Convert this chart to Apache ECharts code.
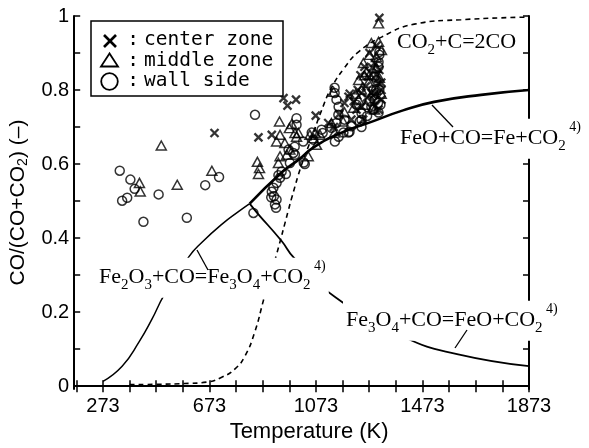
<!DOCTYPE html>
<html><head><meta charset="utf-8">
<script src="https://cdn.jsdelivr.net/npm/echarts@6/dist/echarts.min.js"></script>
<style>html,body{margin:0;padding:0;background:#fff}#c{width:589px;height:448px}</style>
</head><body><div id="c"></div>
<script>
// ---- axis ticks / labels ----
const xTicks = [173,273,373,473,573,673,773,873,973,1073,1173,1273,1373,1473,1573,1673,1773,1873];
const xLabels = [273,673,1073,1473,1873];
const yTicks = [0,0.1,0.2,0.3,0.4,0.5,0.6,0.7,0.8,0.9,1];
const yLabels = [0,0.2,0.4,0.6,0.8,1];

// ---- equilibrium curves [T(K), CO/(CO+CO2)] ----
const fe3o4FeCurve = [[273,0.013],[345,0.054],[408,0.119],[457,0.181],[502,0.245],[596,0.35],[644,0.388],[719,0.437],[783,0.472],[824,0.493]];
const feoFeCurve = [[824,0.493],[944,0.577],[1008,0.612],[1064,0.645],[1160,0.682],[1281,0.714],[1400,0.745],[1517,0.768],[1693,0.787],[1873,0.80]];
const fe3o4FeoCurve = [[824,0.493],[851,0.469],[944,0.392],[989,0.348],[1146,0.24],[1405,0.132],[1607,0.086],[1873,0.054]];
const boudouardCurve = [[373,0.004],[480,0.005],[580,0.007],[663,0.011],[719,0.024],[768,0.046],[806,0.081],[843,0.146],[877,0.235],[925,0.356],[970,0.477],[982,0.509],[1019,0.598],[1057,0.671],[1094,0.745],[1131,0.806],[1180,0.86],[1233,0.903],[1319,0.943],[1442,0.978],[1618,0.99],[1873,0.997]];

// ---- measured points ----
const centerZone = [[692,0.684],[857,0.672],[907,0.679],[951,0.778],[998,0.774],[966,0.758],[1072,0.731],[1200,0.790],[1244,0.792],[1311,0.995],
 [1195,0.782],[1180,0.765],[1255,0.863],[1270,0.836],[1293,0.873],[1311,0.854],[1308,0.819],[1281,0.792],[1319,0.80],[1225,0.747],[1244,0.755],
 [1319,0.774],[1308,0.747],[1206,0.72],[1119,0.711],[1274,0.90],[1300,0.92],[1160,0.735],[1140,0.70],[1290,0.77],[1230,0.80],[1265,0.78],[1300,0.84],[1250,0.72],
 [1215,0.77],[1285,0.86],[1260,0.81],[1318,0.82],[1240,0.84],[1295,0.79]];
const middleZone = [[492,0.650],[410,0.549],[413,0.526],[552,0.544],[682,0.582],[853,0.606],[861,0.589],[857,0.573],
 [936,0.715],[982,0.708],[973,0.697],[938,0.679],[925,0.661],[956,0.657],[975,0.639],[938,0.621],[932,0.603],[963,0.625],[1007,0.684],[1044,0.621],
 [1063,0.670],[1075,0.652],[1088,0.679],[994,0.684],[1069,0.684],[1131,0.711],[1175,0.715],[1050,0.679],[1000,0.674],[1143,0.685],[1139,0.795],
 [1233,0.774],[1244,0.801],[1233,0.827],[1263,0.849],[1251,0.873],[1274,0.841],[1311,0.833],[1293,0.747],[1214,0.752],[1308,0.980],[1281,0.927],
 [1308,0.930],[1274,0.895],[1300,0.889],[1319,0.908],[1180,0.74],[1290,0.80],[1260,0.76],
 [1300,0.86],[1270,0.82],[1318,0.79],[1222,0.79],[1285,0.75],[1255,0.84]];
const wallSide = [[336,0.582],[376,0.558],[392,0.533],[345,0.501],[364,0.509],[425,0.444],[482,0.518],[588,0.455],[657,0.543],[709,0.565],
 [844,0.733],[838,0.468],
 [960,0.573],[938,0.563],[925,0.549],[913,0.536],[907,0.525],[915,0.513],[925,0.504],[919,0.491],[923,0.482],[944,0.58],[932,0.57],[905,0.51],
 [1000,0.724],[975,0.603],[994,0.625],[1031,0.600],[1025,0.661],[1063,0.666],[1098,0.684],[1000,0.706],[1143,0.792],[1150,0.711],[1157,0.733],
 [1144,0.661],[1237,0.715],[1306,0.765],[1300,0.792],[1244,0.738],[1206,0.702],[988,0.630],
 [1143,0.806],[1150,0.774],[1158,0.755],[1311,0.903],[1308,0.863],[1300,0.827],[1289,0.801],[1281,0.755],[1293,0.774],[1244,0.72],[1195,0.685],
 [1176,0.685],[1131,0.698],[1094,0.693],[1057,0.685],[970,0.639],[993,0.647],[1027,0.604],
 [1244,0.70],[1199,0.687],[1158,0.674],[1180,0.72],[1311,0.895],[1308,0.876],[1293,0.836],[1311,0.80],[1289,0.747],[1308,0.739],
 [1265,0.73],[1225,0.76],[1275,0.77],[1315,0.76]];

const sans = 'Liberation Sans, Arial, sans-serif';
const serif = 'Liberation Serif, Times New Roman, serif';
const mono = 'DejaVu Sans Mono, monospace';
const crossPath = 'path://M0,0L10,10M10,0L0,10';

const labelRich = {
  s: {fontSize: 15, fontFamily: serif, padding: [14,0,0,0], fill: '#000'},
  p: {fontSize: 14, fontFamily: serif, padding: [0,0,22,0], fill: '#000'}
};
function eqLabel(text, x, y, bg) {
  return {type:'text', z:100, style:{text:text, x:x, y:y, align:'left', verticalAlign:'middle',
    font:'22px ' + serif, fill:'#000', lineHeight:40, rich:labelRich,
    backgroundColor: bg ? '#fff' : undefined, padding: bg ? [0,3] : 0}};
}
function pline(x1,y1,x2,y2){return {type:'line', z:101, shape:{x1,y1,x2,y2}, style:{stroke:'#000', lineWidth:1.3}};}

const chart = echarts.init(document.getElementById('c'), null, {renderer:'canvas'});
const axisLine = {show:true, lineStyle:{color:'#000', width:2}};
const curveBase = {type:'line', showSymbol:false, smooth:0.5, z:3};
chart.setOption({
  animation:false,
  backgroundColor:'#fff',
  grid:{left:72, right:60, top:16, bottom:58},
  xAxis:[
    {type:'value', min:165, max:1873, position:'bottom', axisLine:axisLine,
     axisTick:{inside:true, length:6, lineStyle:{color:'#000', width:1.5}, customValues:xTicks},
     axisLabel:{customValues:xLabels, color:'#000', fontSize:20, fontFamily:sans, margin:7, formatter:v=>String(v)},
     splitLine:{show:false},
     name:'Temperature (K)', nameLocation:'middle', nameGap:29,
     nameTextStyle:{color:'#000', fontSize:22, fontFamily:sans, padding:[0,0,0,15]}},
    {type:'value', min:165, max:1873, position:'top', axisLine:axisLine,
     axisTick:{inside:true, length:6, lineStyle:{color:'#000', width:1.5}, customValues:xTicks},
     axisLabel:{show:false}, splitLine:{show:false}}
  ],
  yAxis:[
    {type:'value', min:-0.008, max:1, position:'left', axisLine:axisLine,
     axisTick:{inside:true, length:6, lineStyle:{color:'#000', width:1.5}, customValues:yTicks},
     axisLabel:{customValues:yLabels, color:'#000', fontSize:20, fontFamily:sans, margin:5, formatter:v=>String(v)},
     splitLine:{show:false},
     name:'CO/(CO+CO{s|2}) (–)', nameLocation:'middle', nameGap:42,
     nameTextStyle:{color:'#000', fontSize:21, fontFamily:sans, padding:[0,0,0,0],
       rich:{s:{fontSize:14, fontFamily:sans, color:'#000', padding:[10,0,0,0]}}}},
    {type:'value', min:-0.008, max:1, position:'right', axisLine:axisLine,
     axisTick:{inside:true, length:6, lineStyle:{color:'#000', width:1.5}, customValues:yTicks},
     axisLabel:{show:false}, splitLine:{show:false}}
  ],
  series:[
    Object.assign({}, curveBase, {data:fe3o4FeCurve, lineStyle:{color:'#000', width:1.5}}),
    Object.assign({}, curveBase, {data:feoFeCurve, lineStyle:{color:'#000', width:2.6}}),
    Object.assign({}, curveBase, {data:fe3o4FeoCurve, lineStyle:{color:'#000', width:1.8}}),
    Object.assign({}, curveBase, {data:boudouardCurve, lineStyle:{color:'#000', width:1.6, type:[5,4]}}),
    {type:'scatter', name:'wall side', data:wallSide, symbol:'circle', symbolSize:9,
     itemStyle:{color:'rgba(0,0,0,0)', borderColor:'#000', borderWidth:1.5}, z:4},
    {type:'scatter', name:'middle zone', data:middleZone, symbol:'triangle', symbolSize:[10,9],
     itemStyle:{color:'rgba(0,0,0,0)', borderColor:'#000', borderWidth:1.5}, z:4},
    {type:'scatter', name:'center zone', data:centerZone, symbol:crossPath, symbolSize:8,
     itemStyle:{color:'rgba(0,0,0,0)', borderColor:'#000', borderWidth:2.3}, z:4}
  ],
  graphic:[
    // legend
    {type:'rect', z:100, shape:{x:91, y:21, width:192, height:75}, style:{fill:'#fff', stroke:'#000', lineWidth:1.5}},
    {type:'line', z:101, shape:{x1:104, y1:35, x2:116, y2:47}, style:{stroke:'#000', lineWidth:2.6}},
    {type:'line', z:101, shape:{x1:116, y1:35, x2:104, y2:47}, style:{stroke:'#000', lineWidth:2.6}},
    {type:'polygon', z:101, shape:{points:[[109.5,53.5],[101,66.5],[118,66.5]]}, style:{fill:'none', stroke:'#000', lineWidth:1.8}},
    {type:'circle', z:101, shape:{cx:109.5, cy:81.5, r:8.3}, style:{fill:'none', stroke:'#000', lineWidth:1.8}},
    {type:'text', z:101, style:{text:':\n:\n:', x:133, y:60.5, align:'center', verticalAlign:'middle', font:'19.5px ' + mono, lineHeight:20.5, fill:'#000'}},
    {type:'text', z:101, style:{text:'center zone\nmiddle zone\nwall side', x:144, y:60.5, align:'left', verticalAlign:'middle', font:'19.5px ' + mono, lineHeight:20.5, fill:'#000'}},
    // equation labels
    eqLabel('CO{s|2}+C=2CO', 397, 42.7, false),
    eqLabel('FeO+CO=Fe+CO{s|2}{p| 4)}', 397, 138.7, true),
    eqLabel('Fe{s|2}O{s|3}+CO=Fe{s|3}O{s|4}+CO{s|2}{p| 4)}', 96, 277.7, true),
    eqLabel('Fe{s|3}O{s|4}+CO=FeO+CO{s|2}{p| 4)}', 343, 320.7, true),
    pline(432,105,453,127),
    pline(197,250,208,270),
    pline(455,348,467,330)
  ]
});
</script></body></html>
